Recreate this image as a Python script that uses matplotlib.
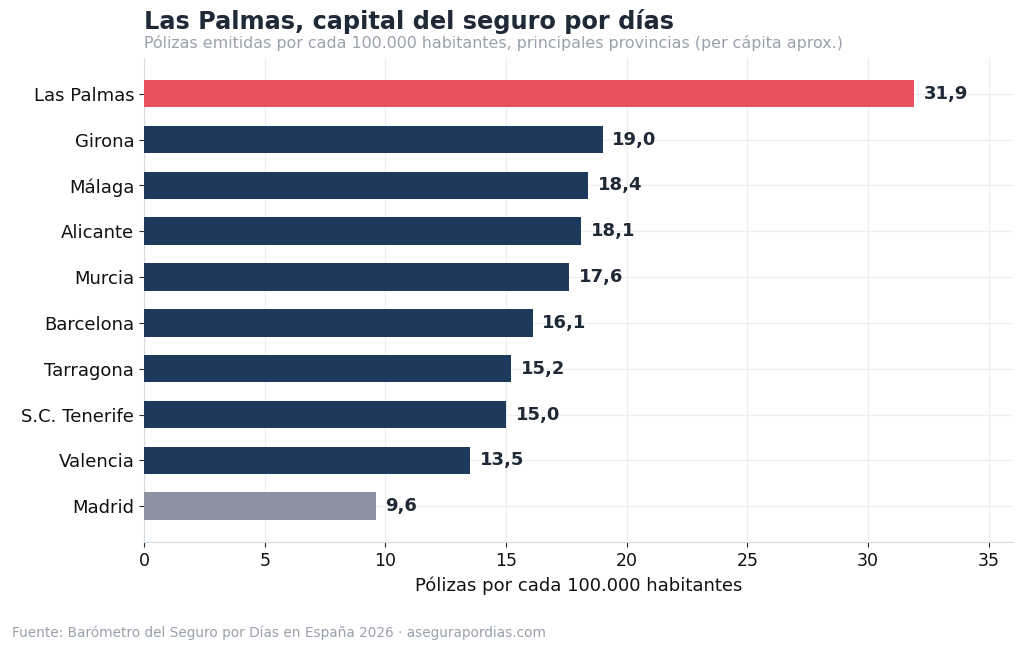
import matplotlib
matplotlib.use("Agg")
import matplotlib.pyplot as plt

provincias = ["Las Palmas", "Girona", "Málaga", "Alicante", "Murcia",
              "Barcelona", "Tarragona", "S.C. Tenerife", "Valencia", "Madrid"]
polizas = [31.9, 19.0, 18.4, 18.1, 17.6, 16.1, 15.2, 15.0, 13.5, 9.6]

rojo = "#e8525f"
azul = "#1b3a5c"
gris = "#8b93a0"
colores = [rojo] + [azul] * 8 + [gris]

fig = plt.figure(figsize=(10.24, 6.52), dpi=100)
ax = fig.add_axes([144 / 1024, 1 - 542 / 652, (1013 - 144) / 1024, (542 - 58) / 652])

y = list(range(len(provincias)))
ax.barh(y, polizas, height=0.6, color=colores, zorder=3)
ax.set_yticks(y)
ax.set_yticklabels(provincias, fontsize=13)
ax.invert_yaxis()
ax.set_xlim(0, 36)
ax.tick_params(axis="x", labelsize=12.5, colors="#1f2937", labelcolor="#111111")
ax.tick_params(axis="y", colors="#1f2937", labelcolor="#111111")
ax.set_xlabel("Pólizas por cada 100.000 habitantes", fontsize=13, color="#111111", labelpad=5)

for yi, v in zip(y, polizas):
    ax.annotate(f"{v:.1f}".replace(".", ","), (v, yi), xytext=(7, 0),
                textcoords="offset points", va="center", ha="left",
                fontsize=13, fontweight="bold", color="#1f2937")

ax.grid(True, color="#eeeeee", linewidth=0.9, zorder=0)
for s in ["top", "right"]:
    ax.spines[s].set_visible(False)
ax.spines["left"].set_color("#d5dbe3")
ax.spines["bottom"].set_color("#d5dbe3")

fig.text(144 / 1024, 1 - 22 / 652, "Las Palmas, capital del seguro por días",
         fontsize=17.3, fontweight="bold", color="#1f2937", va="center")
fig.text(144 / 1024, 1 - 43 / 652,
         "Pólizas emitidas por cada 100.000 habitantes, principales provincias (per cápita aprox.)",
         fontsize=11.4, color="#9aa1ab", va="center")
fig.text(12 / 1024, 1 - 633 / 652,
         "Fuente: Barómetro del Seguro por Días en España 2026 · asegurapordias.com",
         fontsize=9.8, color="#9aa1ab", va="center")

fig.savefig("out.png", dpi=100)
